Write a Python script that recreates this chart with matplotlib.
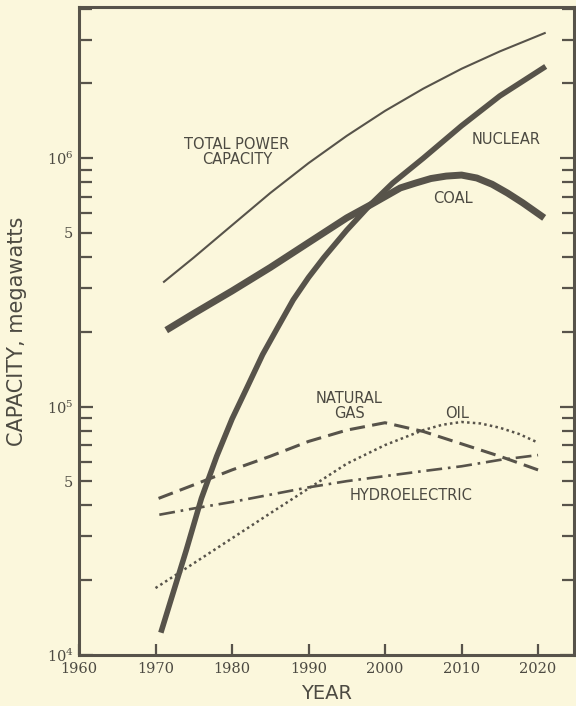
import matplotlib
matplotlib.use("Agg")
import matplotlib.pyplot as plt
from matplotlib.ticker import FixedLocator, FuncFormatter
import numpy as np

# capacity projections, megawatts
total_years = [1971, 1975, 1980, 1985, 1990, 1995, 2000, 2005, 2010, 2015, 2021]
total_mw = [316000, 398000, 537000, 724000, 955000, 1230000, 1550000,
            1905000, 2290000, 2690000, 3200000]

coal_years = [1971.4, 1975, 1980, 1985, 1990, 1995, 1998, 2002, 2004, 2006, 2008,
              2010, 2012, 2014, 2016, 2018, 2020.8]
coal_mw = [203000, 237000, 292000, 363000, 457000, 575000, 646000, 759000, 794000,
           828000, 847000, 855000, 832000, 785000, 724000, 661000, 575000]

nuclear_years = [1970.7, 1972, 1974, 1976, 1978, 1980, 1982, 1984, 1986, 1988, 1990,
                 1992, 1995, 1998, 2001, 2005, 2010, 2015, 2021]
nuclear_mw = [12300, 16600, 26300, 42700, 63100, 89100, 120000, 162000, 209000,
              269000, 331000, 398000, 513000, 646000, 794000, 1000000, 1350000,
              1780000, 2340000]

gas_years = [1970.4, 1975, 1980, 1985, 1990, 1995, 2000, 2005, 2010, 2015, 2020]
gas_mw = [42700, 48400, 55600, 63100, 72400, 80400, 86100, 79400, 70800, 63100, 55600]

hydro_years = [1970.5, 1975, 1980, 1985, 1990, 1995, 2000, 2005, 2010, 2015, 2020]
hydro_mw = [36700, 38900, 41300, 44200, 47300, 50100, 52500, 55000, 57500, 61000, 63800]

oil_years = [1970, 1975, 1980, 1985, 1990, 1995, 2000, 2005, 2007.5, 2010, 2012.5,
             2015, 2017.5, 2020]
oil_mw = [18600, 23400, 29500, 37200, 46800, 58900, 70000, 80400, 84500, 86700,
          85500, 82200, 77600, 71600]

x_ticks = [1960, 1970, 1980, 1990, 2000, 2010, 2020]

paper = "#fbf7dc"
ink = "#57534a"
text_ink = "#4c4a42"

plt.rcParams["mathtext.fontset"] = "dejavuserif"

fig = plt.figure(figsize=(5.76, 7.06), dpi=100, facecolor=paper)
ax = fig.add_axes([79 / 576, 1 - 655 / 706, 495 / 576, 648 / 706], facecolor=paper)

ax.plot(total_years, total_mw, color=ink, lw=1.5, solid_capstyle="butt")
ax.plot(coal_years, coal_mw, color=ink, lw=5.0, solid_capstyle="butt",
        solid_joinstyle="round")
ax.plot(nuclear_years, nuclear_mw, color=ink, lw=4.0, solid_capstyle="butt",
        solid_joinstyle="round")
ax.plot(gas_years, gas_mw, color=ink, lw=2.2, linestyle=(0, (5, 2.4)))
ax.plot(hydro_years, hydro_mw, color=ink, lw=1.9, linestyle=(0, (6, 2.2, 1, 2.2)))
ax.plot(oil_years, oil_mw, color=ink, lw=1.8, linestyle=(0, (1, 1.3)))

ax.set_yscale("log")
ax.set_xlim(1960, 2024.7)
ax.set_ylim(1e4, 4.06e6)

ax.xaxis.set_major_locator(FixedLocator(x_ticks))
ax.set_xticklabels([str(y) for y in x_ticks])
ax.yaxis.set_major_locator(FixedLocator([1e4, 1e5, 1e6]))
ax.set_yticklabels([r"$10^4$", r"$10^5$", r"$10^6$"])
minor = [m * 10 ** e for e in (4, 5, 6) for m in range(2, 10) if m * 10 ** e < 4.06e6]
ax.yaxis.set_minor_locator(FixedLocator(minor))
ax.yaxis.set_minor_formatter(FuncFormatter(
    lambda v, pos: "5" if abs(v / 10 ** np.floor(np.log10(v)) - 5) < 1e-6 else ""))

ax.tick_params(axis="x", which="both", direction="in", length=8, width=1.6,
               color=ink, labelcolor=text_ink, pad=5, top=False)
ax.tick_params(axis="y", which="both", direction="in", width=1.6, color=ink,
               labelcolor=text_ink, pad=4, left=True, right=True)
ax.tick_params(axis="y", which="major", length=10)
ax.tick_params(axis="y", which="minor", length=9)
for lab in ax.get_xticklabels() + ax.get_yticklabels(which="both"):
    lab.set_fontfamily("DejaVu Serif")
    lab.set_fontsize(10.5)

for s in ax.spines.values():
    s.set_color(ink)
    s.set_linewidth(2.2)

label_font = dict(family=["Liberation Sans Narrow", "DejaVu Sans"], color=text_ink)
ax.set_xlabel("YEAR", fontsize=14, labelpad=6, **label_font)
ax.set_ylabel("CAPACITY, megawatts", fontsize=15, labelpad=14, **label_font)

tag = dict(family="DejaVu Sans", color=text_ink, fontsize=10.5,
           ha="center", va="center", linespacing=1.0)
ax.text(1980.65, 1.06e6, "TOTAL POWER\nCAPACITY", **tag)
ax.text(2015.8, 1.19e6, "NUCLEAR", **tag)
ax.text(2008.9, 6.9e5, "COAL", **tag)
ax.text(1995.3, 1.01e5, "NATURAL\nGAS", **tag)
ax.text(2009.4, 9.4e4, "OIL", **tag)
ax.text(2003.4, 4.37e4, "HYDROELECTRIC", **tag)

fig.savefig("out.png", dpi=100, facecolor=paper)
